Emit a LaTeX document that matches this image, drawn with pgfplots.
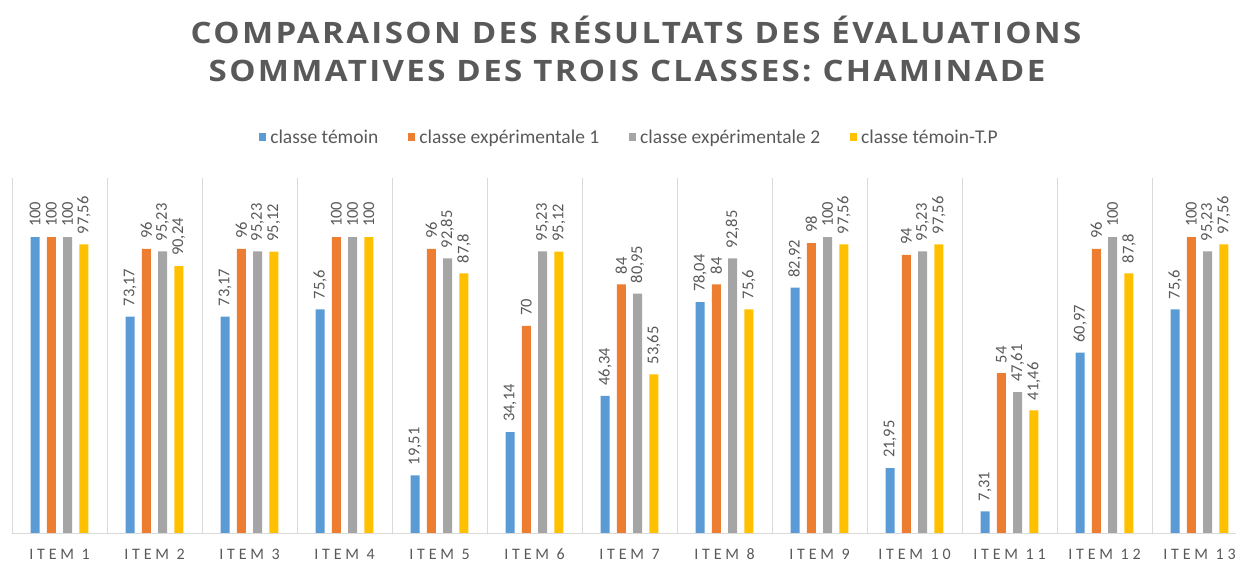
\documentclass[border=0pt]{standalone}
\usepackage{fontspec}
\usepackage{pgfplots}
\pgfplotsset{compat=1.18}
\setmainfont{Carlito}
\newfontfamily\titlefont[FakeStretch=1.12, LetterSpace=8]{Open Sans}
\newfontfamily\tickfont[LetterSpace=24]{Carlito}
\definecolor{cblue}{HTML}{5B9BD5}
\definecolor{corange}{HTML}{ED7D31}
\definecolor{cgray}{HTML}{A5A5A5}
\definecolor{cgold}{HTML}{FFC000}
\definecolor{textgray}{HTML}{595959}
\definecolor{linegray}{HTML}{D9D9D9}
\begin{document}
\begin{tikzpicture}
\node[anchor=base, text=textgray, font=\titlefont\bfseries\fontsize{29.5bp}{35bp}\selectfont] at (636bp,517bp) {COMPARAISON DES RÉSULTATS DES ÉVALUATIONS};
\node[anchor=base, text=textgray, font=\titlefont\bfseries\fontsize{29.5bp}{35bp}\selectfont] at (627bp,479bp) {SOMMATIVES DES TROIS CLASSES: CHAMINADE};
\begin{axis}[
    at={(12bp,28bp)}, anchor=south west,
    scale only axis, width=1235bp, height=355bp,
    ybar=7.3bp, bar width=9bp,
    xmin=0.5, xmax=13.5, ymin=0, ymax=120,
    axis y line=none, axis x line*=bottom,
    x axis line style={draw=linegray, line width=0.8bp},
    xtick={1,...,13},
    xticklabels={ITEM 1,ITEM 2,ITEM 3,ITEM 4,ITEM 5,ITEM 6,ITEM 7,ITEM 8,ITEM 9,ITEM 10,ITEM 11,ITEM 12,ITEM 13},
    xticklabel style={font=\tickfont\fontsize{16bp}{18bp}\selectfont, text=textgray, anchor=base, yshift=-26bp},
    major tick length=0pt,
    extra x ticks={0.5,1.5,...,12.5},
    extra x tick labels={},
    extra x tick style={grid=major, major grid style={draw=linegray, line width=0.8bp}},
    /pgf/number format/.cd, use comma, 1000 sep={}, /pgfplots/.cd,
    nodes near coords={\pgfmathprintnumber[assume math mode=true]{\pgfplotspointmeta}},
    every node near coord/.append style={rotate=90, anchor=west, inner xsep=10bp,
        font=\fontsize{16.5bp}{19bp}\selectfont, text=textgray},
    legend columns=4,
    legend style={at={(0.5,1.115)}, anchor=center, draw=none, fill=none,
        font=\fontsize{19.5bp}{22bp}\selectfont, text=textgray,
        /tikz/every odd column/.append style={column sep=2bp},
        /tikz/every even column/.append style={column sep=28bp}},
    legend image code/.code={\fill[#1] (0bp,-4bp) rectangle (7bp,4bp);},
]
\addplot[fill=cblue, draw=none] coordinates {(1,100) (2,73.17) (3,73.17) (4,75.6) (5,19.51) (6,34.14) (7,46.34) (8,78.04) (9,82.92) (10,21.95) (11,7.31) (12,60.97) (13,75.6)};
\addplot[fill=corange, draw=none] coordinates {(1,100) (2,96) (3,96) (4,100) (5,96) (6,70) (7,84) (8,84) (9,98) (10,94) (11,54) (12,96) (13,100)};
\addplot[fill=cgray, draw=none] coordinates {(1,100) (2,95.23) (3,95.23) (4,100) (5,92.85) (6,95.23) (7,80.95) (8,92.85) (9,100) (10,95.23) (11,47.61) (12,100) (13,95.23)};
\addplot[fill=cgold, draw=none] coordinates {(1,97.56) (2,90.24) (3,95.12) (4,100) (5,87.8) (6,95.12) (7,53.65) (8,75.6) (9,97.56) (10,97.56) (11,41.46) (12,87.8) (13,97.56)};
\legend{classe témoin, classe expérimentale 1, classe expérimentale 2, classe témoin-T.P}
\end{axis}
\pgfresetboundingbox
\useasboundingbox (0,0) rectangle (1236bp,561bp);
\end{tikzpicture}
\end{document}
